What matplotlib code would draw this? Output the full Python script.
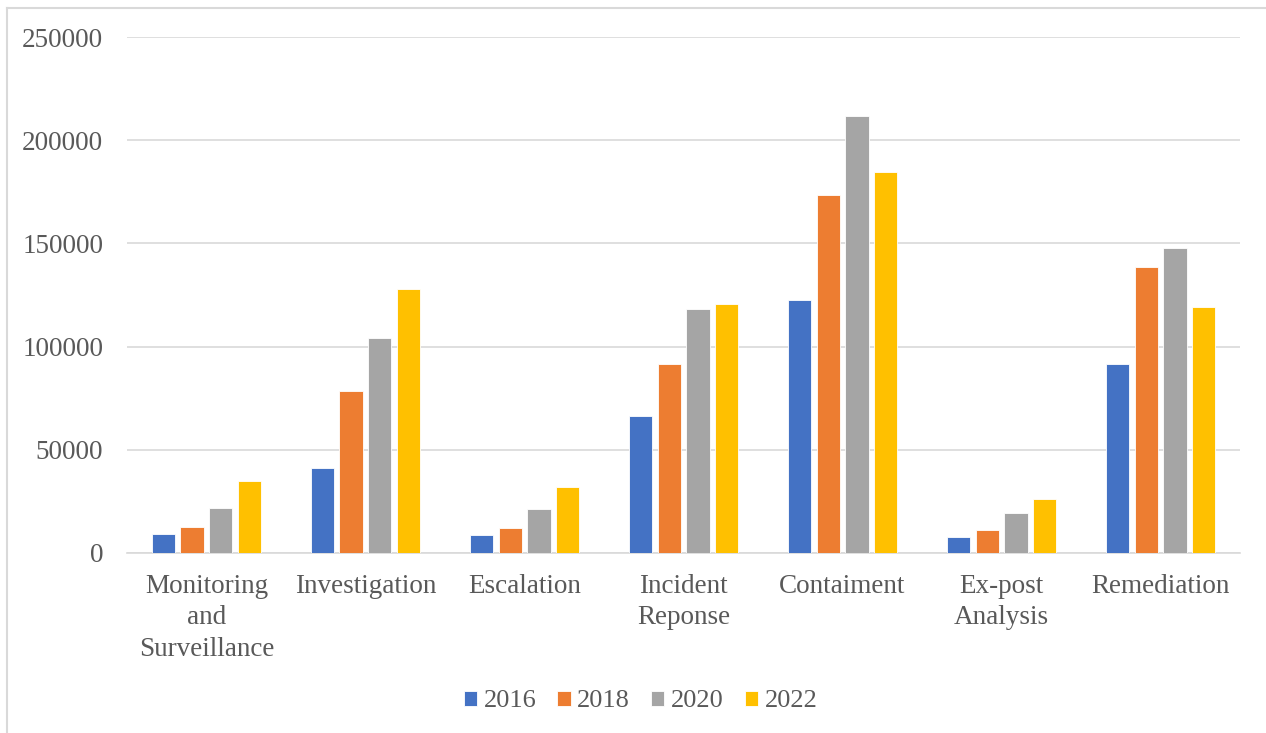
import numpy as np
import matplotlib.pyplot as plt
from matplotlib.lines import Line2D

categories = ['Monitoring\nand\nSurveillance', 'Investigation', 'Escalation',
              'Incident\nReponse', 'Contaiment', 'Ex-post\nAnalysis', 'Remediation']
years = ['2016', '2018', '2020', '2022']
v2016 = [9000, 41300, 8700, 66200, 122800, 7800, 91500]
v2018 = [12400, 78300, 12200, 91500, 173300, 11100, 138500]
v2020 = [21800, 104000, 21500, 118300, 211700, 19200, 147800]
v2022 = [35000, 128000, 32200, 120500, 184600, 26300, 119200]
colors = ['#4472c4', '#ed7d31', '#a5a5a5', '#ffc000']

plt.rcParams['font.family'] = ['Liberation Serif', 'DejaVu Serif']

fig = plt.figure(figsize=(12.66, 7.33), dpi=100)
ax = fig.add_axes([0.1003, 0.2456, 0.8792, 0.7039])

x = np.arange(len(categories))
width = 0.145
step = 0.182
for i, vals in enumerate([v2016, v2018, v2020, v2022]):
    ax.bar(x + (i - 1.5) * step, vals, width, color=colors[i], label=years[i],
           edgecolor='white', linewidth=0.6, zorder=3)

ax.set_xlim(-0.5, len(categories) - 0.5)
ax.set_ylim(0, 250000)
ax.set_yticks(range(0, 250001, 50000))
ax.grid(axis='y', color='#d9d9d9', linewidth=1.2, zorder=0)
for s in ['top', 'right', 'left']:
    ax.spines[s].set_visible(False)
ax.spines['bottom'].set_color('#d9d9d9')
ax.spines['bottom'].set_linewidth(1.2)
ax.tick_params(length=0, labelsize=19.5, labelcolor='#595959')
ax.tick_params(axis='y', pad=17)
ax.tick_params(axis='x', pad=15)
ax.set_xticks(x)
ax.set_xticklabels(categories, linespacing=1.35)

leg = fig.legend(loc='center', bbox_to_anchor=(0.506, 0.043), ncol=4, frameon=False,
                 fontsize=19, handlelength=0.5, handleheight=0.5, handletextpad=0.25,
                 columnspacing=0.8)
for t in leg.get_texts():
    t.set_color('#595959')

# chart area border (top and left edges)
fig.add_artist(Line2D([7 / 1266, 1], [1 - 8 / 733, 1 - 8 / 733], color='#d9d9d9', lw=1.5))
fig.add_artist(Line2D([7 / 1266, 7 / 1266], [0, 1 - 8 / 733], color='#d9d9d9', lw=1.5))

fig.savefig('out.png', dpi=100)
